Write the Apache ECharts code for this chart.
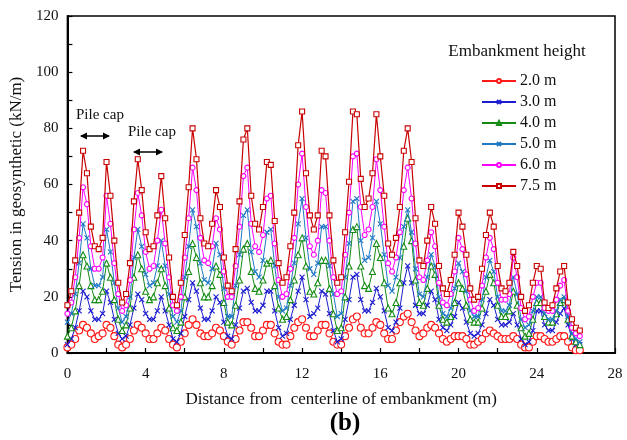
<!DOCTYPE html>
<html><head><meta charset="utf-8">
<script src="https://cdn.jsdelivr.net/npm/echarts@6/dist/echarts.min.js"></script>
<style>html,body{margin:0;padding:0;background:#fff}#c{width:627px;height:440px}</style>
</head><body><div id="c"></div>
<script>
// Distance from centerline (m)
const distance = [0,0.2,0.4,0.6,0.8,1,1.2,1.4,1.6,1.8,2,2.2,2.4,2.6,2.8,3,3.2,3.4,3.6,3.8,4,4.2,4.4,4.6,4.8,5,5.2,5.4,5.6,5.8,6,6.2,6.4,6.6,6.8,7,7.2,7.4,7.6,7.8,8,8.2,8.4,8.6,8.8,9,9.2,9.4,9.6,9.8,10,10.2,10.4,10.6,10.8,11,11.2,11.4,11.6,11.8,12,12.2,12.4,12.6,12.8,13,13.2,13.4,13.6,13.8,14,14.2,14.4,14.6,14.8,15,15.2,15.4,15.6,15.8,16,16.2,16.4,16.6,16.8,17,17.2,17.4,17.6,17.8,18,18.2,18.4,18.6,18.8,19,19.2,19.4,19.6,19.8,20,20.2,20.4,20.6,20.8,21,21.2,21.4,21.6,21.8,22,22.2,22.4,22.6,22.8,23,23.2,23.4,23.6,23.8,24,24.2,24.4,24.6,24.8,25,25.2,25.4,25.6,25.8,26,26.2];

// Tension in geosynthetic (kN/m) for each embankment height
const h20 = [2,3,5,8,10, 9,7,5,6,7, 10,9,6,3,2, 3,5,8,10,9, 7,5,5,7,9, 8,5,3,2,4, 7,10,12,10,7, 6,6,7,9,8, 6,4,3,5,8, 11,11,9,6,6, 8,10,10,7,4, 3,3,6,9,11, 12,9,6,6,8, 10,10,7,4,3, 3,6,9,12,13, 9,7,7,9,11, 10,7,5,5,8, 11,13,14,11,8, 6,7,9,10,9, 7,5,4,5,6, 6,6,5,3,3, 4,5,7,8,7, 6,5,5,5,6, 5,3,2,2,4, 6,6,5,4,4, 5,6,6,4,2, 1,1];
const h30 = [3,5,9,15,22, 20,15,12,12,14, 22,18,12,7,5, 6,10,16,21,19, 14,12,12,15,20, 15,10,5,4,7, 13,19,25,22,16, 12,12,15,20,18, 11,6,5,10,16, 22,23,18,15,15, 17,22,22,15,9, 6,7,12,17,22, 27,19,13,14,16, 22,21,14,8,4, 5,12,19,27,28, 19,15,15,18,23, 20,15,9,8,11, 16,25,31,25,17, 14,14,17,22,19, 12,9,8,10,13, 18,16,11,7,6, 7,10,14,19,17, 12,10,10,11,14, 10,5,3,4,8, 15,15,10,8,8, 11,14,16,10,5, 3,3];
const h40 = [6,9,15,24,35, 31,24,19,19,22, 32,27,19,12,8, 10,16,27,35,30, 22,19,20,25,30, 24,16,9,8,11, 20,29,39,34,25, 20,20,24,31,28, 18,11,10,17,26, 37,39,29,23,22, 26,32,33,24,16, 12,13,19,26,35, 41,31,22,21,25, 33,33,23,14,8, 9,20,31,44,45, 31,24,23,29,39, 34,25,16,14,18, 25,38,48,40,26, 18,17,23,31,28, 17,12,11,13,18, 25,23,17,12,11, 11,16,22,28,25, 17,13,13,15,22, 17,9,6,7,12, 18,18,13,11,11, 14,18,19,12,6, 4,3];
const h50 = [11,14,21,32,46, 41,30,24,24,27, 44,36,25,16,11, 13,20,34,44,38, 28,24,25,31,40, 31,21,13,11,15, 27,38,51,45,32, 26,25,30,39,35, 23,13,13,24,35, 49,51,36,29,27, 33,43,44,31,20, 15,16,24,32,46, 55,41,30,28,32, 45,45,31,21,13, 14,27,39,54,55, 40,33,34,41,54, 46,35,24,22,27, 34,45,51,43,30, 21,20,27,35,31, 20,14,13,16,23, 32,29,22,15,13, 13,19,27,33,29, 20,15,15,17,27, 21,12,9,10,15, 20,20,14,12,12, 15,19,20,13,7, 5,4];
const h60 = [14,18,27,41,59, 53,38,30,30,34, 56,46,32,21,15, 17,26,44,57,49, 36,30,31,40,51, 39,27,17,15,20, 34,48,66,58,41, 33,32,38,48,44, 29,20,20,31,45, 63,66,46,38,36, 42,55,56,39,26, 20,21,30,41,60, 71,52,38,35,40, 58,57,40,27,21, 22,35,50,70,71, 52,42,44,52,69, 58,45,32,29,34, 43,58,66,55,39, 27,26,33,43,38, 25,18,17,21,29, 41,37,28,19,15, 16,24,34,41,37, 25,19,19,21,34, 27,16,12,13,20, 25,25,16,15,15, 19,24,26,15,9, 7,6];
const h75 = [17,22,33,50,72, 64,45,38,37,41, 68,56,40,25,18, 21,32,54,69,58, 43,37,38,49,63, 48,34,20,17,25, 42,59,80,69,48, 39,38,46,58,52, 34,24,22,37,54, 76,80,56,46,44, 52,68,67,47,32, 25,27,38,50,74, 86,64,49,44,49, 72,70,49,33,25, 27,43,61,86,85, 62,52,55,64,85, 70,56,39,35,41, 52,72,80,68,48, 33,31,40,52,46, 31,23,21,26,35, 50,45,35,23,19, 20,30,42,50,45, 31,23,22,25,36, 31,20,15,17,25, 31,30,18,16,17, 23,29,31,18,12, 9,8];

const seriesNames = ['2.0 m','3.0 m','4.0 m','5.0 m','6.0 m','7.5 m'];
const seriesValues = [h20,h30,h40,h50,h60,h75];

const X = 'path://M0,0L10,10M0,10L10,0';
const styles = [
  {c:'#ff1a1a', sym:'circle', size:7, w:1},
  {c:'#1c1cd0', sym:X, size:5, w:1},
  {c:'#148c14', sym:'triangle', size:6, w:1},
  {c:'#1f78c4', sym:X, size:5, w:1},
  {c:'#ff00ff', sym:'circle', size:5, w:1},
  {c:'#c80000', sym:'rect', size:5, w:1.2}
];
const SERIF = 'Liberation Serif';

const chart = echarts.init(document.getElementById('c'), null, {renderer:'canvas'});
const series = seriesNames.map((name, k) => {
  const s = styles[k];
  const isX = s.sym === X;
  return {
    name, type:'line', data: distance.map((d,i)=>[d, seriesValues[k][i]]),
    symbol: s.sym, symbolSize: s.size, showAllSymbol:true,
    lineStyle:{color:s.c, width:s.w},
    itemStyle:{color: isX ? s.c : '#fff', borderColor:s.c, borderWidth:1.1},
    color: s.c,
    z: 2 + k
  };
});

chart.setOption({
  animation:false,
  backgroundColor:'#fff',
  grid:{left:64, right:12, top:16, bottom:87, show:true, borderColor:'#000', borderWidth:1.5, backgroundColor:'transparent'},
  xAxis:{
    type:'value', min:0, max:28, interval:4,
    name:'Distance from  centerline of embankment (m)', nameLocation:'middle', nameGap:38,
    nameTextStyle:{fontFamily:SERIF, fontSize:17, color:'#111'},
    axisLine:{lineStyle:{color:'#000', width:2}},
    axisTick:{inside:true, length:5, lineStyle:{color:'#000', width:1.2}},
    minorTick:{show:true, splitNumber:2, length:5, lineStyle:{color:'#000', width:1.2}},
    axisLabel:{fontFamily:SERIF, fontSize:15, color:'#111', margin:14},
    splitLine:{show:false}
  },
  yAxis:{
    type:'value', min:0, max:120, interval:20,
    name:'Tension in geosynthetic (kN/m)', nameLocation:'middle', nameGap:38,
    nameTextStyle:{fontFamily:SERIF, fontSize:17, color:'#111'},
    axisLine:{lineStyle:{color:'#000', width:2}},
    axisTick:{inside:true, length:5, lineStyle:{color:'#000', width:1.2}},
    minorTick:{show:true, splitNumber:2, length:5, lineStyle:{color:'#000', width:1.2}},
    axisLabel:{fontFamily:SERIF, fontSize:15, color:'#111', margin:9},
    splitLine:{show:false}
  },
  legend:{
    orient:'vertical', left:481, top:73, padding:0, itemWidth:34, itemHeight:5, itemGap:5,
    textStyle:{fontFamily:SERIF, fontSize:16, color:'#111', padding:[0,0,0,-1]},
    data: seriesNames
  },
  graphic:[
    {type:'text', style:{text:'Embankment height', x:517, y:52, align:'center', verticalAlign:'middle', fontFamily:SERIF, fontSize:17, fill:'#111'}},
    {type:'text', style:{text:'Pile cap', x:76, y:108, fontFamily:SERIF, fontSize:15, fill:'#111'}},
    {type:'text', style:{text:'Pile cap', x:128, y:125, fontFamily:SERIF, fontSize:15, fill:'#111'}},
    {type:'line', shape:{x1:81, y1:136, x2:109, y2:136}, style:{stroke:'#000', lineWidth:1.5}},
    {type:'polygon', shape:{points:[[80,136],[87,132.5],[87,139.5]]}, style:{fill:'#000'}},
    {type:'polygon', shape:{points:[[110,136],[103,132.5],[103,139.5]]}, style:{fill:'#000'}},
    {type:'line', shape:{x1:134, y1:152, x2:162, y2:152}, style:{stroke:'#000', lineWidth:1.5}},
    {type:'polygon', shape:{points:[[133,152],[140,148.5],[140,155.5]]}, style:{fill:'#000'}},
    {type:'polygon', shape:{points:[[163,152],[156,148.5],[156,155.5]]}, style:{fill:'#000'}},
    {type:'text', style:{text:'(b)', x:345, y:424, align:'center', verticalAlign:'middle', fontFamily:SERIF, fontSize:25, fontWeight:'bold', fill:'#000'}}
  ],
  series
});
</script></body></html>
